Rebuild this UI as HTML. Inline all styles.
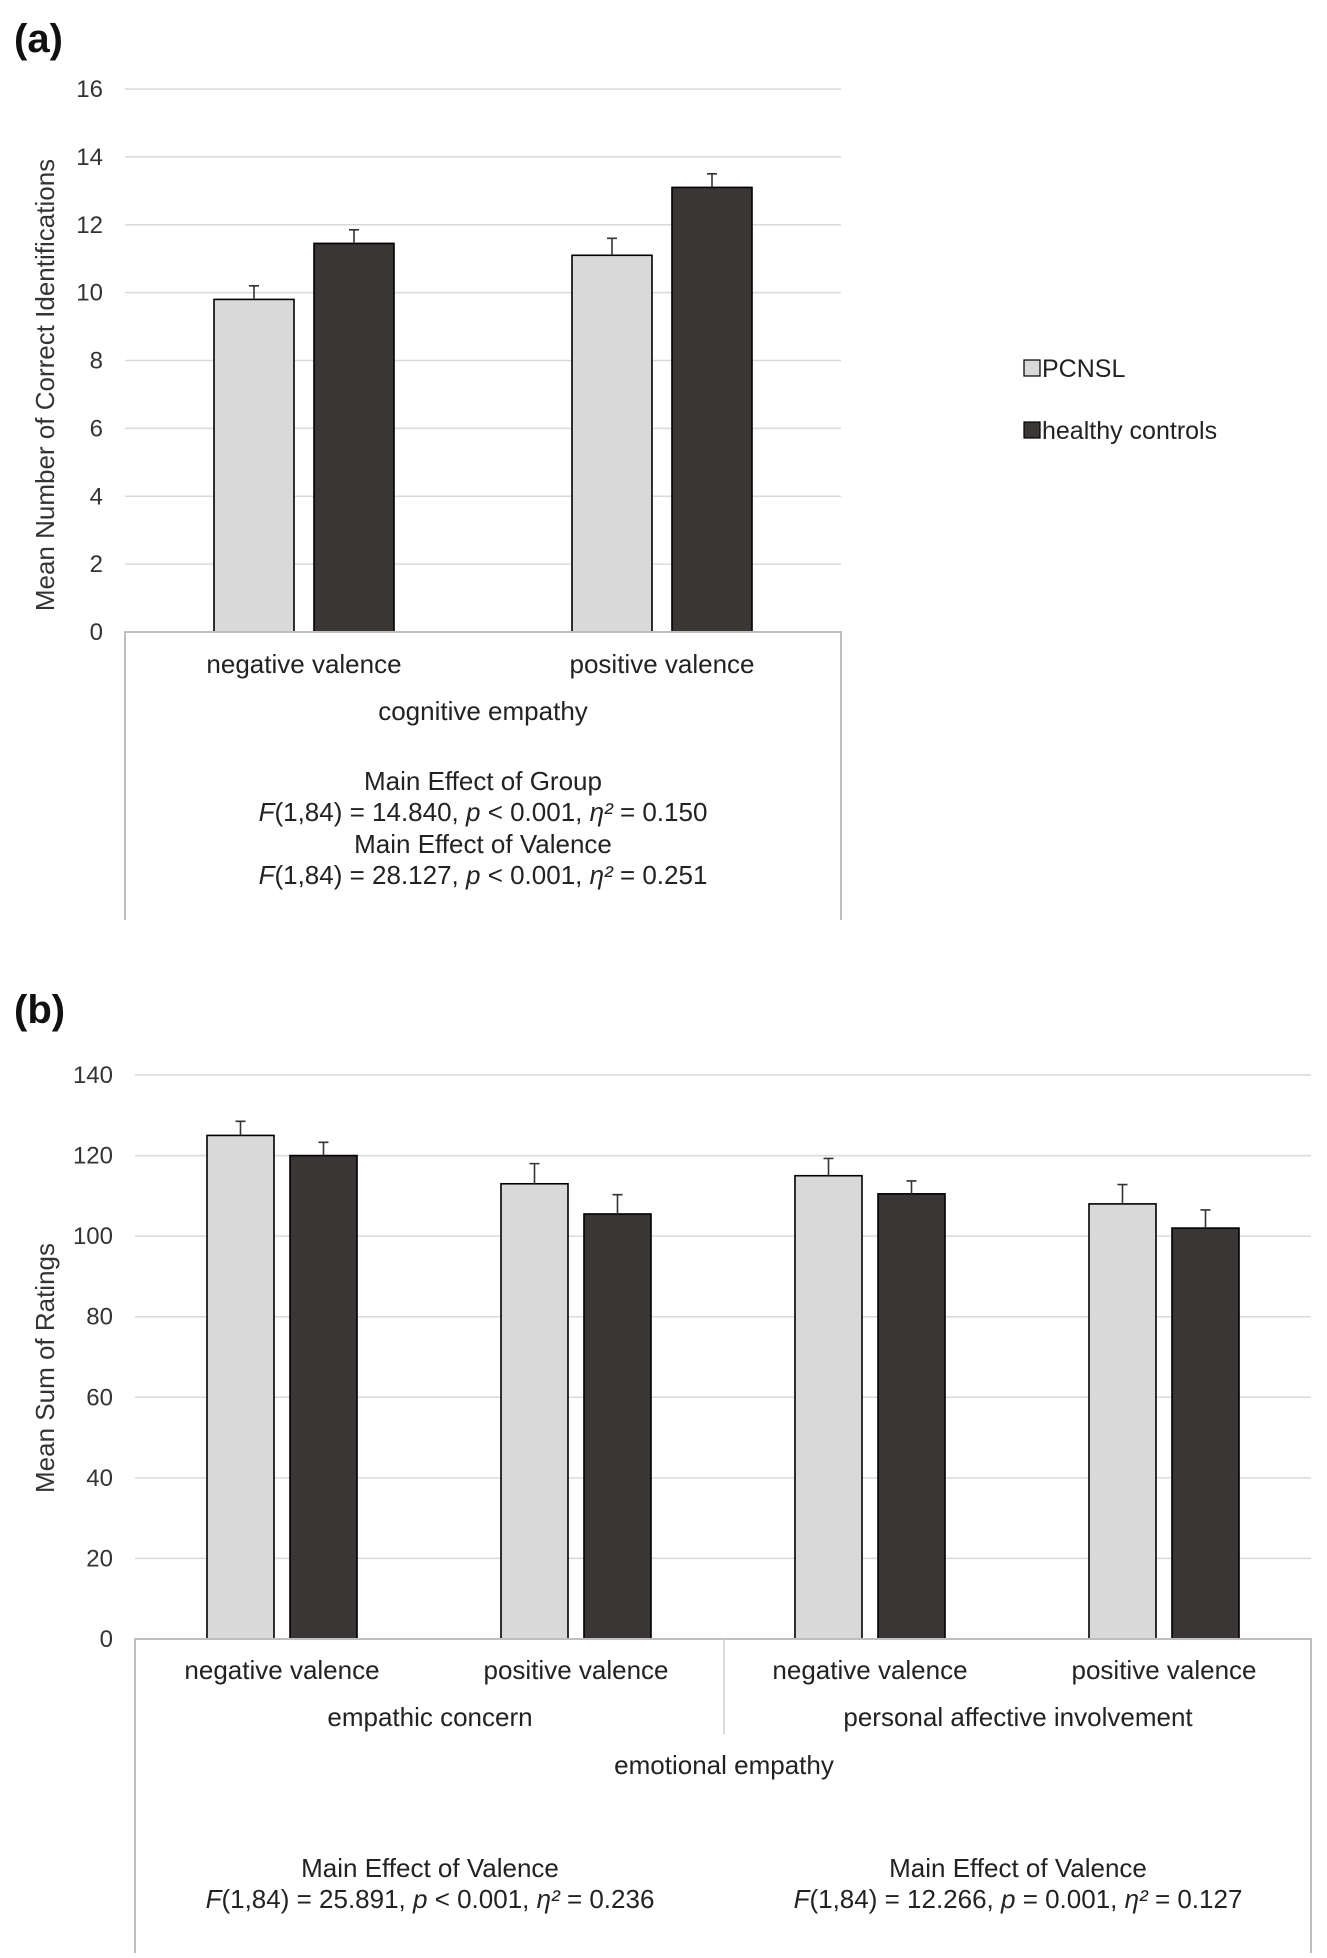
<!DOCTYPE html>
<html><head><meta charset="utf-8"><style>
body{margin:0;background:#fff;}
svg{display:block;font-family:"Liberation Sans",Arial,sans-serif;}
</style></head><body>
<svg id="s" width="1327" height="1958" viewBox="0 0 1327 1958">
<text x="14" y="52" font-size="40" font-weight="bold" fill="#111">(a)</text>
<text x="14" y="1023" font-size="40" font-weight="bold" fill="#111">(b)</text>
<g id="ga"></g>
<g id="gb"></g>
<g>
<g><rect x="1024" y="360" width="16" height="16" fill="#d9d9d9" stroke="#000" stroke-width="1.2"/><text x="1042" y="377" font-size="25" fill="#222">PCNSL</text></g>
<g><rect x="1024" y="422" width="16" height="16" fill="#3a3636" stroke="#000" stroke-width="1.2"/><text x="1042" y="439" font-size="25" fill="#222">healthy controls</text></g>
</g>
</svg>
<script>
const aCats=["negative valence","positive valence"];
const aPCNSL=[9.8,11.1];
const aHC=[11.45,13.1];
const aErrP=[0.4,0.5];
const aErrH=[0.4,0.4];
const aTicks=[0,2,4,6,8,10,12,14,16];
const bCats=["negative valence","positive valence","negative valence","positive valence"];
const bPCNSL=[125,113,115,108];
const bHC=[120,105.5,110.5,102];
const bErrP=[3.5,5,4.3,4.8];
const bErrH=[3.3,4.8,3.2,4.5];
const bTicks=[0,20,40,60,80,100,120,140];
const NS="http://www.w3.org/2000/svg";
function mk(p,t,a,txt){const e=document.createElementNS(NS,t);for(const k in a)e.setAttribute(k,a[k]);if(txt!=null)e.textContent=txt;p.appendChild(e);return e;}
function chart(g,o){
  const y=v=>o.y0-(v-o.min)/(o.max-o.min)*(o.y0-o.y1);
  o.ticks.forEach(t=>{
    if(t>0){const l=mk(g,'line',{x1:o.L,x2:o.R,y1:y(t),y2:y(t),stroke:'#d9d9d9','stroke-width':1.5});
    
    }
    const tx=mk(g,'text',{x:o.tickX,y:y(t)+8,'text-anchor':'end','font-size':24,fill:'#333'},t);
    
    
  });
  const n=o.cats.length,w=(o.R-o.L)/n;
  o.cats.forEach((c,i)=>{
    const cx=o.L+w*(i+0.5);
    [[o.p,o.ep,'#d9d9d9',-1],[o.h,o.eh,'#3a3636',1]].forEach(([vals,errs,col,s])=>{
      const x0=s<0?cx-o.gap/2-o.bw:cx+o.gap/2;
      const v=vals[i];
      const b=mk(g,'rect',{x:x0,y:y(v),width:o.bw,height:y(0)-y(v),fill:col,stroke:'#000','stroke-width':1.6});
      
      
      const mx=x0+o.bw/2;
      const e=mk(g,'path',{d:`M${mx},${y(v)}V${y(v+errs[i])}M${mx-5},${y(v+errs[i])}H${mx+5}`,stroke:'#333','stroke-width':1.6,fill:'none'});
      
      
    });
    const t=mk(g,'text',{x:cx,y:o.catY,'text-anchor':'middle','font-size':26,fill:'#222'},c);
    
    
  });
  mk(g,'path',{d:`M${o.L},${o.boxB}V${y(0)}H${o.R}V${o.boxB}`,stroke:'#bfbfbf','stroke-width':2,fill:'none'});
  const yt=mk(g,'text',{x:0,y:0,transform:`translate(${o.titleX},${o.titleY}) rotate(-90)`,'text-anchor':'middle','font-size':26,fill:'#333'},o.title);
  
  
}
const ga=document.getElementById('ga');
chart(ga,{cats:aCats,p:aPCNSL,h:aHC,ep:aErrP,eh:aErrH,ticks:aTicks,min:0,max:16,y0:632,y1:89,L:125,R:841,bw:80,gap:20,catY:673,boxB:920,tickX:103,titleX:54,titleY:385,title:"Mean Number of Correct Identifications"});
[["cognitive empathy",720,false],["Main Effect of Group",790,false],["F(1,84) = 14.840, p < 0.001, η² = 0.150",821,true],["Main Effect of Valence",853,false],["F(1,84) = 28.127, p < 0.001, η² = 0.251",884,true]].forEach(([t,yy,st])=>{
  const e=mk(ga,'text',{x:483,y:yy,'text-anchor':'middle','font-size':26,fill:'#222'});
  if(st){e.innerHTML='<tspan font-style="italic">F</tspan>(1,84) = '+t.split('= ')[1].split(',')[0]+', <tspan font-style="italic">p</tspan> '+t.split(', p ')[1].split(',')[0]+', <tspan font-style="italic">η²</tspan> = '+t.split('= ').pop();}
  else e.textContent=t;
  
  
});
const gb=document.getElementById('gb');
chart(gb,{cats:bCats,p:bPCNSL,h:bHC,ep:bErrP,eh:bErrH,ticks:bTicks,min:0,max:140,y0:1639,y1:1075,L:135,R:1311,bw:67,gap:16,catY:1679,boxB:1953,tickX:113,titleX:54,titleY:1368,title:"Mean Sum of Ratings"});
mk(gb,'line',{x1:724,x2:724,y1:1639,y2:1734,stroke:'#d0d0d0','stroke-width':1.5});
[["empathic concern",430,1726],["personal affective involvement",1018,1726],["emotional empathy",724,1774],["Main Effect of Valence",430,1877],["Main Effect of Valence",1018,1877]].forEach(([t,x,yy])=>{
  const e=mk(gb,'text',{x:x,y:yy,'text-anchor':'middle','font-size':26,fill:'#222'},t);
  
  
});
[[430,'25.891','<','0.001','0.236'],[1018,'12.266','=','0.001','0.127']].forEach(([x,f,op,p,eta])=>{
  const e=mk(gb,'text',{x:x,y:1908,'text-anchor':'middle','font-size':26,fill:'#222'});
  e.innerHTML=`<tspan font-style="italic">F</tspan>(1,84) = ${f}, <tspan font-style="italic">p</tspan> ${op} ${p}, <tspan font-style="italic">η²</tspan> = ${eta}`;
  
  
});
</script>
</body></html>
